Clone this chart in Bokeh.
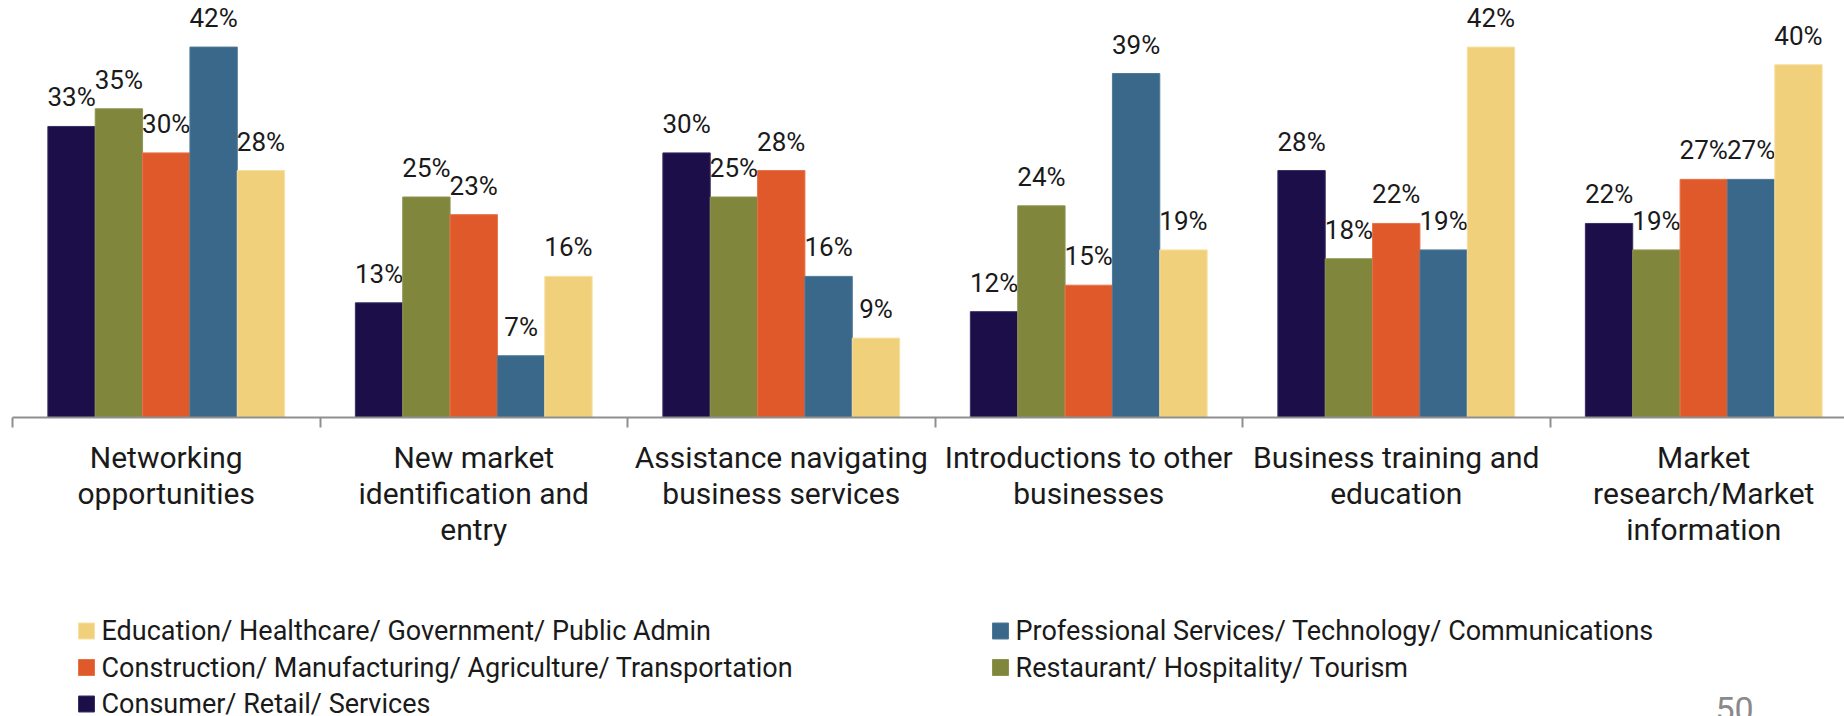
from bokeh.plotting import figure
from bokeh.layouts import column
from bokeh.models import Range1d, FixedTicker, ColumnDataSource
from bokeh.core.properties import value
from bokeh.embed import file_html
from bokeh.resources import INLINE

categories = [
    "Networking\nopportunities",
    "New market\nidentification and\nentry",
    "Assistance navigating\nbusiness services",
    "Introductions to other\nbusinesses",
    "Business training and\neducation",
    "Market\nresearch/Market\ninformation",
]
series_names = [
    "Consumer/ Retail/ Services",
    "Restaurant/ Hospitality/ Tourism",
    "Construction/ Manufacturing/ Agriculture/ Transportation",
    "Professional Services/ Technology/ Communications",
    "Education/ Healthcare/ Government/ Public Admin",
]
consumer = [33, 13, 30, 12, 28, 22]
restaurant = [35, 25, 25, 24, 18, 19]
construction = [30, 23, 28, 15, 22, 27]
professional = [42, 7, 16, 39, 19, 27]
education = [28, 16, 9, 19, 42, 40]
series_values = [consumer, restaurant, construction, professional, education]
colors = ["#1c0e49", "#80873c", "#e0592b", "#39688a", "#f1d07b"]
edge_colors = ["#3a3060", "#8e9450", "#e8714a", "#4f7a96", "#f7e0a2"]
page_number = "50"

FONT = "Roboto"
W = 1844
LEFT = 12
TOP_H = 612
BOT_H = 716 - TOP_H
bar_w = 0.154

p = figure(width=W, height=TOP_H, output_backend="svg", toolbar_location=None,
           x_range=Range1d(-0.5, 5.4577), y_range=Range1d(0, 47.28),
           y_axis_location=None, min_border_left=LEFT, min_border_right=0,
           min_border_top=0, min_border_bottom=TOP_H - 417)
p.outline_line_color = None
p.xgrid.visible = False
p.ygrid.visible = False

for k, (name, vals) in enumerate(zip(series_names, series_values)):
    xs = [i + (k - 2) * bar_w for i in range(len(categories))]
    src = ColumnDataSource(dict(x=xs, top=vals, lab=[f"{v}%" for v in vals]))
    p.vbar(x="x", top="top", bottom=0, width=bar_w, source=src,
           fill_color=colors[k], line_color=edge_colors[k], line_width=1)
    p.text(x="x", y="top", text="lab", source=src, text_align="center",
           text_baseline="alphabetic", y_offset=-29, text_font=value(FONT),
           text_font_size="26px", text_color="#1a1a1a")

ax = p.xaxis[0]
ax.ticker = FixedTicker(ticks=list(range(len(categories))),
                        minor_ticks=[i - 0.5 for i in range(len(categories) + 1)])
ax.major_label_overrides = {i: c for i, c in enumerate(categories)}
ax.axis_line_color = "#8f8f8f"
ax.axis_line_width = 2
ax.major_tick_line_color = None
ax.major_tick_out = 0
ax.major_tick_in = 0
ax.minor_tick_line_color = "#8f8f8f"
ax.minor_tick_line_width = 2
ax.minor_tick_out = 10
ax.minor_tick_in = 0
ax.major_label_standoff = 12
ax.major_label_text_font = FONT
ax.major_label_text_font_size = "30px"
ax.major_label_text_line_height = 1.04
ax.major_label_text_color = "#1a1a1a"

# legend panel (page-pixel coordinates; frame starts at x = LEFT)
q = figure(width=W, height=BOT_H, output_backend="svg", toolbar_location=None,
           x_range=Range1d(LEFT, W), y_range=Range1d(BOT_H, 0),
           x_axis_location=None, y_axis_location=None,
           min_border_left=LEFT, min_border_right=0, min_border_top=0, min_border_bottom=0)
q.outline_line_color = None
q.xgrid.visible = False
q.ygrid.visible = False

legend_order = [4, 3, 2, 1, 0]          # row-major: col1, col2, col1, col2, col1
col_x = [78, 992]
row_y0, row_dy = 18.5, 36.5
lx, ly, lc, le, lt = [], [], [], [], []
for n, k in enumerate(legend_order):
    lx.append(col_x[n % 2])
    ly.append(row_y0 + (n // 2) * row_dy)
    lc.append(colors[k])
    le.append(edge_colors[k])
    lt.append(series_names[k])
lsrc = ColumnDataSource(dict(xs=[v + 8 for v in lx], xt=[v + 23 for v in lx],
                             y=ly, c=lc, e=le, t=lt))
q.rect(x="xs", y="y", width=16, height=16, source=lsrc, fill_color="c",
       line_color="e", line_width=1, width_units="screen", height_units="screen")
q.text(x="xt", y="y", text="t", source=lsrc, text_baseline="middle",
       text_font=value(FONT), text_font_size="27px", text_color="#1a1a1a")
q.text(x=[1715], y=[84], text=[page_number], text_baseline="top",
       text_font=value(FONT), text_font_size="34px", text_color="#8a8a8a")

open("out.html", "w").write(file_html(column(p, q, spacing=0), INLINE))
